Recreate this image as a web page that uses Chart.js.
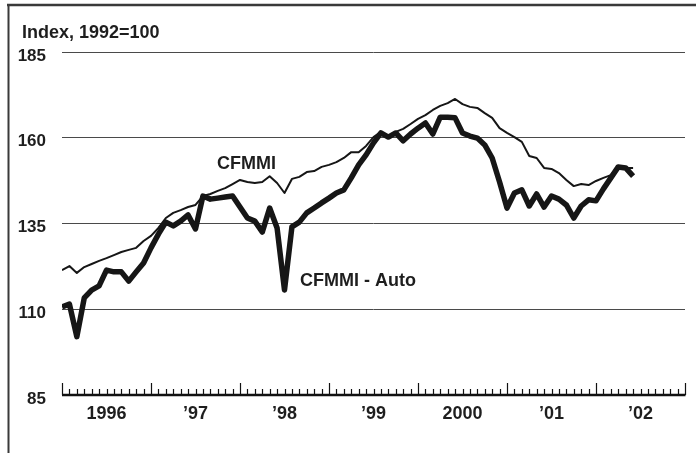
<!DOCTYPE html>
<html><head><meta charset="utf-8">
<script src="https://cdn.jsdelivr.net/npm/chart.js@4.4.1/dist/chart.umd.min.js"></script>
<style>html,body{margin:0;padding:0;background:#fff}#wrap{width:696px;height:453px}</style>
</head><body><div id="wrap"><canvas id="c" width="696" height="453"></canvas></div>
<script>
// Month index: 0 = Jan 1996 ... 77 = Jun 2002
const months = [0,1,2,3,4,5,6,7,8,9,10,11,12,13,14,15,16,17,18,19,20,21,22,23,24,25,26,27,28,29,30,31,32,33,34,35,36,37,38,39,40,41,42,43,44,45,46,47,48,49,50,51,52,53,54,55,56,57,58,59,60,61,62,63,64,65,66,67,68,69,70,71,72,73,74,75,76,77];
const cfmmi = [121.4,122.6,120.6,122.3,123.2,124.1,124.9,125.8,126.7,127.3,127.9,129.9,
  131.4,133.7,136.6,138.1,138.9,139.8,140.4,143.0,143.6,144.5,145.3,146.5,
  147.7,147.1,146.8,147.1,148.8,146.8,143.9,148.0,148.6,150.0,150.3,151.5,
  152.1,152.9,154.1,155.8,155.8,157.6,160.2,161.7,160.2,161.7,162.6,164.0,
  165.5,166.6,168.1,169.3,170.1,171.3,169.8,169.0,168.7,167.2,165.8,162.8,
  161.4,160.2,158.8,154.7,154.1,151.2,150.9,149.7,147.7,145.9,146.5,146.2,
  147.4,148.3,149.1,151.8,151.2,151.2];
const cfmmiAuto = [110.7,111.5,102.0,113.3,115.6,116.8,121.4,120.9,120.9,118.2,120.9,123.5,
  127.9,131.9,135.4,134.3,135.7,137.5,133.4,143.0,142.1,142.4,142.7,143.0,
  139.8,136.6,135.7,132.5,139.5,133.7,115.6,134.0,135.4,138.1,139.5,141.0,
  142.4,143.9,144.8,148.3,152.1,155.0,158.5,161.4,160.2,161.4,159.1,161.1,
  162.8,164.3,161.1,166.0,166.0,165.8,161.4,160.5,159.9,157.9,154.1,147.1,
  139.5,143.9,144.8,140.1,143.6,139.8,143.0,142.1,140.4,136.6,140.1,141.9,
  141.6,145.1,148.3,151.5,151.2,148.8];
const yearLabels = ['1996','\u201997','\u201998','\u201999','2000','\u201901','\u201902'];
const yearCenters = [6,18,30,42,54,66,78];
const yTicks = [85,110,135,160,185];
const seriesNames = ['CFMMI','CFMMI - Auto'];
const titleText = 'Index, 1992=100';

const FONT = '"Liberation Sans", Arial, sans-serif';
const INK = '#1e1e1e';

const deco = {
  id: 'deco',
  afterDatasetsDraw(chart) {
    const ctx = chart.ctx, xs = chart.scales.x, ys = chart.scales.y, a = chart.chartArea;
    ctx.save();
    // frame
    ctx.strokeStyle = '#3a3a3a';
    ctx.lineWidth = 2.5;
    ctx.beginPath(); ctx.moveTo(7, 5); ctx.lineTo(696, 5); ctx.stroke();
    ctx.lineWidth = 2;
    ctx.beginPath(); ctx.moveTo(8.5, 4); ctx.lineTo(8.5, 453); ctx.stroke();
    // x axis line
    ctx.strokeStyle = '#111';
    ctx.lineWidth = 2.5;
    ctx.beginPath(); ctx.moveTo(a.left, a.bottom); ctx.lineTo(a.right + 0.5, a.bottom); ctx.stroke();
    // month ticks pointing up
    ctx.lineWidth = 1.2;
    for (let m = xs.min; m <= xs.max; m++) {
      const px = Math.round(xs.getPixelForValue(m)) + 0.5;
      const len = (m % 12 === 0) ? 12 : 6;
      ctx.beginPath(); ctx.moveTo(px, a.bottom); ctx.lineTo(px, a.bottom - len); ctx.stroke();
    }
    // title
    ctx.fillStyle = INK;
    ctx.font = 'bold 18px ' + FONT;
    ctx.textAlign = 'left'; ctx.textBaseline = 'alphabetic';
    ctx.fillText(titleText, 22, 38);
    // series labels
    ctx.fillText(seriesNames[0], xs.getPixelForValue(20.9), ys.getPixelForValue(150.9));
    ctx.fillText(seriesNames[1], xs.getPixelForValue(32.1), ys.getPixelForValue(116.8));
    ctx.restore();
  }
};

new Chart(document.getElementById('c'), {
  type: 'line',
  data: {
    datasets: [
      { label: seriesNames[1], data: months.map((m, i) => ({x: m, y: cfmmiAuto[i]})),
        borderColor: '#161616', borderWidth: 5.5, pointRadius: 0, tension: 0,
        borderJoinStyle: 'round', borderCapStyle: 'butt', fill: false },
      { label: seriesNames[0], data: months.map((m, i) => ({x: m, y: cfmmi[i]})),
        borderColor: '#161616', borderWidth: 2, pointRadius: 0, tension: 0,
        borderJoinStyle: 'round', fill: false }
    ]
  },
  options: {
    responsive: false, animation: false, devicePixelRatio: 1,
    layout: { padding: { left: 0, right: 11, top: 52, bottom: 0 } },
    plugins: { legend: { display: false }, tooltip: { enabled: false }, title: { display: false } },
    scales: {
      x: {
        type: 'linear', min: 0, max: 84,
        grid: { display: false, drawTicks: false },
        border: { display: false },
        afterBuildTicks: s => { s.ticks = yearCenters.map(v => ({ value: v })); },
        afterFit: s => { s.height = 58; },
        ticks: { autoSkip: false, maxRotation: 0, minRotation: 0, padding: 8,
          color: INK, font: { family: FONT, size: 18, weight: 'bold' },
          callback: (v, i) => yearLabels[i] }
      },
      y: {
        min: 85, max: 185,
        afterBuildTicks: s => { s.ticks = yTicks.map(v => ({ value: v })); },
        afterFit: s => { s.width = 62; },
        grid: { drawTicks: false, lineWidth: 1,
          color: c => (c.tick && c.tick.value === 85) ? 'rgba(0,0,0,0)' : '#4a4a4a' },
        border: { display: false },
        ticks: { padding: 16, labelOffset: 4, color: INK,
          font: { family: FONT, size: 17, weight: 'bold' } }
      }
    }
  },
  plugins: [deco]
});
</script></body></html>
